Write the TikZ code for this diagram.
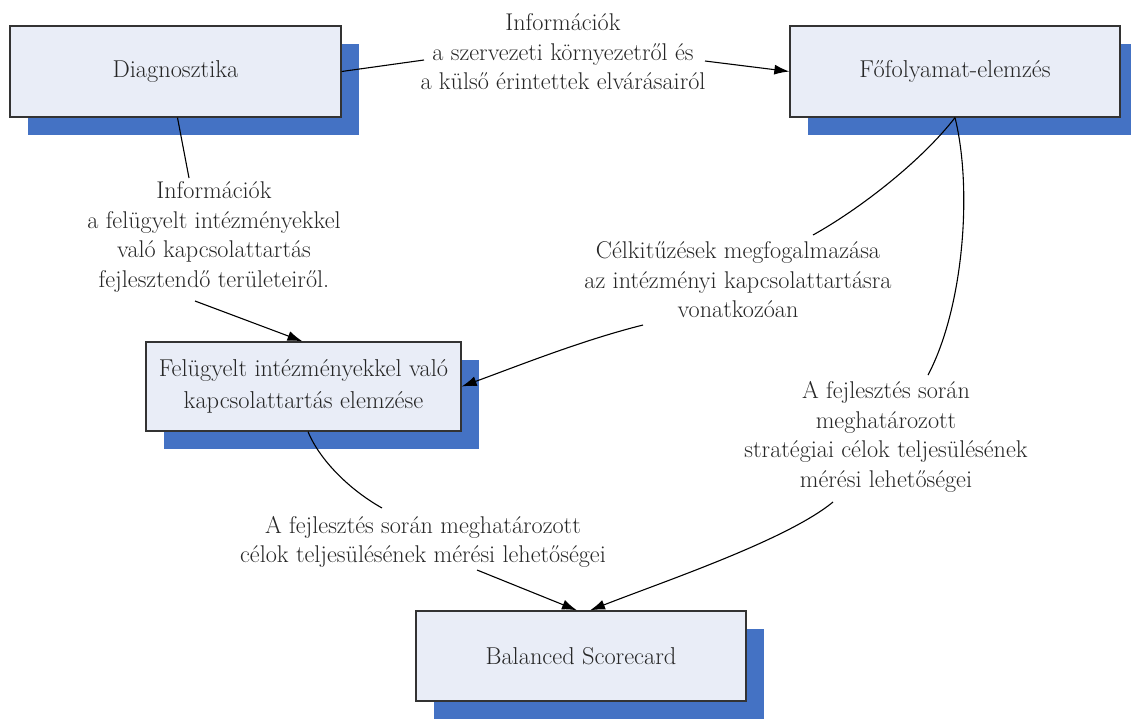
\documentclass[tikz,border=0pt]{standalone}
\usepackage{fontspec}
\usetikzlibrary{shadows,arrows.meta,calc}
\definecolor{boxfill}{HTML}{E9EDF7}
\definecolor{shadowblue}{HTML}{4472C4}
\definecolor{txt}{HTML}{262626}
\begin{document}
\begin{tikzpicture}[x=1pt,y=-1pt,
  text=txt,
  box/.style={draw=black!80, line width=1.3pt, fill=boxfill,
    minimum width=331pt, minimum height=91pt, align=center, inner sep=0pt,
    font=\fontsize{24.4}{32}\selectfont,
    drop shadow={shadow xshift=18pt, shadow yshift=-18pt, opacity=1, fill=shadowblue}},
  lbl/.style={align=center, inner sep=0pt, font=\fontsize{24.2}{29.5}\selectfont},
  con/.style={line width=1.1pt, black},
  arr/.style={con, -{Latex[length=15pt,width=10pt]}}]
\useasboundingbox (0,0) rectangle (1131,718);
\clip (0,0) rectangle (1131,718);

% boxes
\node[box] (diag) at (175.5,71.5) {Diagnosztika};
\node[box, minimum width=330pt] (fo) at (955,71.5) {Főfolyamat-elemzés};
\node[box, minimum width=315pt, minimum height=89pt] (fel) at (303.5,386.5) {Felügyelt intézményekkel való\\kapcsolattartás elemzése};
\node[box, minimum width=330pt, minimum height=90pt] (bsc) at (581,656) {Balanced Scorecard};

% labels
\node[lbl] (l1) at (563,52) {Információk\\a szervezeti környezetről és\\a külső érintettek elvárásairól};
\node[lbl] (l2) at (214,237) {Információk\\a felügyelt intézményekkel\\való kapcsolattartás\\fejlesztendő területeiről.};
\node[lbl] (l3) at (738,280) {Célkitűzések megfogalmazása\\az intézményi kapcsolattartásra\\vonatkozóan};
\node[lbl] (l4) at (886,437) {A fejlesztés során\\meghatározott\\stratégiai célok teljesülésének\\mérési lehetőségei};
\node[lbl] (l5) at (423,542) {A fejlesztés során meghatározott\\célok teljesülésének mérési lehetőségei};

% connectors
\draw[con] (diag.east) -- ($(l1.center)+(-139,8)$);
\draw[arr] ($(l1.center)+(142,9)$) -- (fo.west);

\draw[con] ($(diag.south)+(2,0)$) -- ($(l2.center)+(-25,-59)$);
\draw[arr] ($(l2.center)+(-19,64)$) -- ($(fel.north)+(-1,0)$);

\draw[con] (fo.south) .. controls +(-35,45) and +(45,-25) .. ($(l3.center)+(75,-45)$);
\draw[arr] ($(l3.center)+(-95,45)$) .. controls +(-60,15) and +(60,-22) .. (fel.east);

\draw[con] (fo.south) .. controls +(18,73) and +(35,-66) .. ($(l4.center)+(42,-62)$);
\draw[arr] ($(l4.center)+(-53,65)$) .. controls +(-46,38) and +(74,-29) .. ($(bsc.north)+(9,0)$);

\draw[con] ($(fel.south)+(4.5,0)$) .. controls +(12,29) and +(-32,-18) .. ($(l5.center)+(-41,-34)$);
\draw[arr] ($(l5.center)+(54,28)$) -- ($(bsc.north)+(-4,0)$);
\end{tikzpicture}
\end{document}
